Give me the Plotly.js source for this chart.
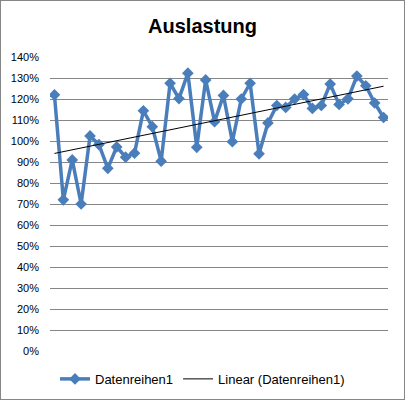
<!DOCTYPE html>
<html><head><meta charset="utf-8">
<script src="https://cdn.plot.ly/plotly-3.0.1.min.js"></script>
<style>
html,body{margin:0;padding:0;background:#fff;}
#wrap{position:relative;width:405px;height:400px;}
#frame{position:absolute;left:0;top:0;width:403px;height:398px;border:1px solid #868686;pointer-events:none;}
#chart{width:405px;height:400px;}
</style>
</head><body>
<div id="wrap"><div id="chart"></div><div id="frame"></div></div>
<script>
const categories = Array.from({length:38},(_,i)=>String(i+1));
const seriesName = "Datenreihen1";
const trendName = "Linear (Datenreihen1)";
const values = [1.22,0.72,0.91,0.70,1.024,0.983,0.87,0.972,0.923,0.942,1.144,1.068,0.904,1.275,1.202,1.323,0.97,1.291,1.092,1.217,0.997,1.20,1.275,0.939,1.086,1.169,1.16,1.20,1.221,1.155,1.169,1.271,1.174,1.201,1.309,1.263,1.181,1.112];

// least-squares linear trend of the series (as Excel's "Linear" trendline)
const n = values.length;
const xs = values.map((_,i)=>i+1);
const mx = xs.reduce((a,b)=>a+b,0)/n, my = values.reduce((a,b)=>a+b,0)/n;
let sxy=0,sxx=0; for(let i=0;i<n;i++){sxy+=(xs[i]-mx)*(values[i]-my);sxx+=(xs[i]-mx)**2;}
const slope=sxy/sxx, icpt=my-slope*mx;
const trend = xs.map(x=>icpt+slope*x);

const blue = "#4A7EBB";
const data = [
  {x:categories,y:values,type:"scatter",mode:"lines+markers",name:seriesName,
   line:{color:blue,width:3.5},marker:{symbol:"diamond",size:9,color:blue}},
  {x:categories,y:trend,type:"scatter",mode:"lines",name:trendName,
   line:{color:"#000",width:1}}
];
const layout = {
  width:405,height:400,
  margin:{l:50,r:17,t:57,b:49,autoexpand:false},
  paper_bgcolor:"#fff",plot_bgcolor:"#fff",
  font:{family:"Liberation Sans, Arial, sans-serif",size:11,color:"#000"},
  title:{text:"<b>Auslastung</b>",x:0.5,xanchor:"center",y:0.935,yanchor:"middle",
         font:{family:"Liberation Sans, Arial, sans-serif",size:20,color:"#000"}},
  xaxis:{type:"category",range:[-0.5,37.5],showticklabels:false,showgrid:false,
         zeroline:false,showline:false,ticks:""},
  yaxis:{range:[0,1.4],dtick:0.1,tickformat:".0%",showgrid:true,gridcolor:"#868686",
         gridwidth:1,zeroline:false,showline:false,ticks:"",ticklen:0,
         ticklabelstandoff:10,tickfont:{size:11,color:"#000"}},
  showlegend:true,
  legend:{orientation:"h",xref:"container",x:0.5,xanchor:"center",y:-0.095,yanchor:"middle",
          font:{size:13,color:"#000"},itemwidth:30,tracegroupgap:0},
};
Plotly.newPlot("chart",data,layout,{displayModeBar:false,staticPlot:true});
</script>
</body></html>
